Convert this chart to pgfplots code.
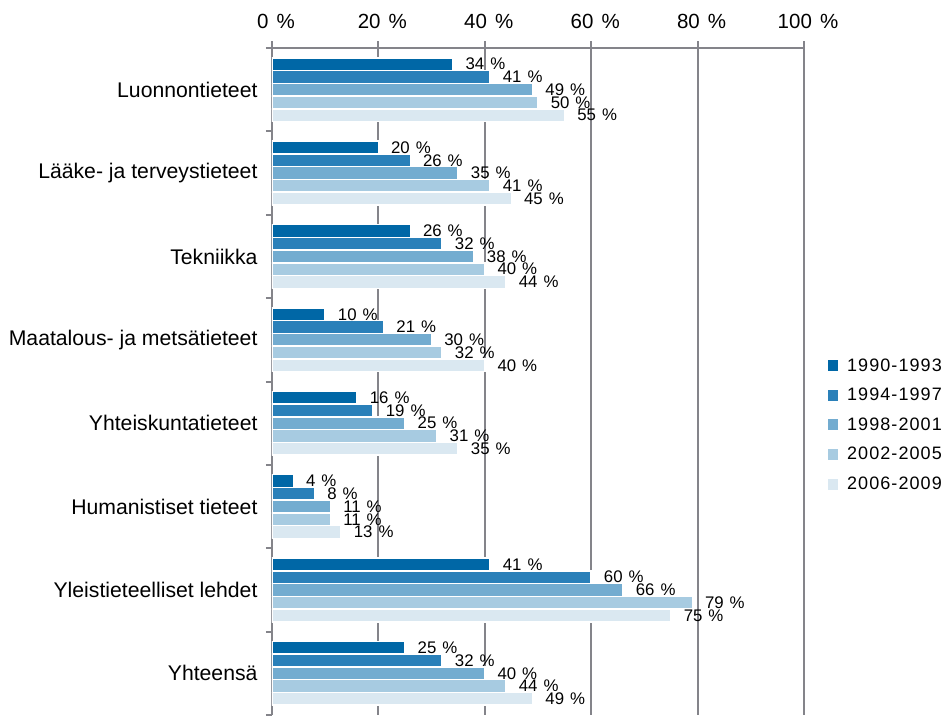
\documentclass[border=0pt]{standalone}
\usepackage{fontspec}
\setmainfont{Liberation Sans}
\usepackage{pgfplots}
\pgfplotsset{compat=1.18}
\definecolor{cA}{RGB}{0,103,166}
\definecolor{cB}{RGB}{42,128,185}
\definecolor{cC}{RGB}{115,172,208}
\definecolor{cD}{RGB}{167,203,225}
\definecolor{cE}{RGB}{218,232,241}
\definecolor{gl}{RGB}{132,132,138}
\newcommand{\pc}{\hspace{0.12em} \%}
\begin{document}
\begin{tikzpicture}
\useasboundingbox (-272pt,0pt) rectangle (675pt,715pt);
\begin{axis}[
  at={(0pt,0pt)}, anchor=south west,
  scale only axis, width=532pt, height=667pt,
  xbar, bar width=0.153,
  xmin=0, xmax=100, ymin=0.5, ymax=8.5, y dir=reverse,
  axis x line*=top, axis y line*=left,
  axis line style={gl, line width=2pt, -},
  xmajorgrids, grid style={gl, line width=2pt},
  xtick={0,20,...,100}, xticklabels={0\pc,20\pc,40\pc,60\pc,80\pc,100\pc},
  ytick={1,...,8},
  yticklabels={Luonnontieteet,Lääke- ja terveystieteet,Tekniikka,Maatalous- ja metsätieteet,Yhteiskuntatieteet,Humanistiset tieteet,Yleistieteelliset lehdet,Yhteensä},
  minor ytick={0.5,1.5,...,8.5},
  tick align=outside, major tick length=7pt, minor tick length=6pt,
  tick style={gl, line width=2pt},
  major y tick style={draw=none},
  xticklabel style={font=\fontsize{20.5}{24}\selectfont, yshift=9pt, xshift=4pt},
  yticklabel style={font=\fontsize{21.2}{24}\selectfont, xshift=-4pt},
  point meta=x,
  nodes near coords={\pgfmathprintnumber{\pgfplotspointmeta}\hspace{0.08em}~\%},
  every node near coord/.append style={font=\fontsize{16.8}{18}\selectfont, anchor=west, inner sep=0pt, xshift=12pt, text=black},
  legend cell align=left,
  legend style={draw=none, at={(1.045,0.435)}, anchor=west, font=\fontsize{18}{20}\selectfont\addfontfeatures{LetterSpace=6}, row sep=11.5pt, inner sep=0pt,
    /tikz/every odd column/.append style={column sep=7pt}},
  legend image code/.code={\fill[#1, draw=none] (0pt,-5.5pt) rectangle (10pt,5.5pt);},
  /pgf/number format/assume math mode=true,
]
\addplot[fill=cA, draw=white, line width=1.5pt, bar shift=-0.306] coordinates {(34,1) (20,2) (26,3) (10,4) (16,5) (4,6) (41,7) (25,8)};
\addplot[fill=cB, draw=white, line width=1.5pt, bar shift=-0.153] coordinates {(41,1) (26,2) (32,3) (21,4) (19,5) (8,6) (60,7) (32,8)};
\addplot[fill=cC, draw=white, line width=1.5pt, bar shift=0] coordinates {(49,1) (35,2) (38,3) (30,4) (25,5) (11,6) (66,7) (40,8)};
\addplot[fill=cD, draw=white, line width=1.5pt, bar shift=0.153] coordinates {(50,1) (41,2) (40,3) (32,4) (31,5) (11,6) (79,7) (44,8)};
\addplot[fill=cE, draw=white, line width=1.5pt, bar shift=0.306] coordinates {(55,1) (45,2) (44,3) (40,4) (35,5) (13,6) (75,7) (49,8)};
\legend{1990-1993,1994-1997,1998-2001,2002-2005,2006-2009}
\end{axis}
\end{tikzpicture}
\end{document}
